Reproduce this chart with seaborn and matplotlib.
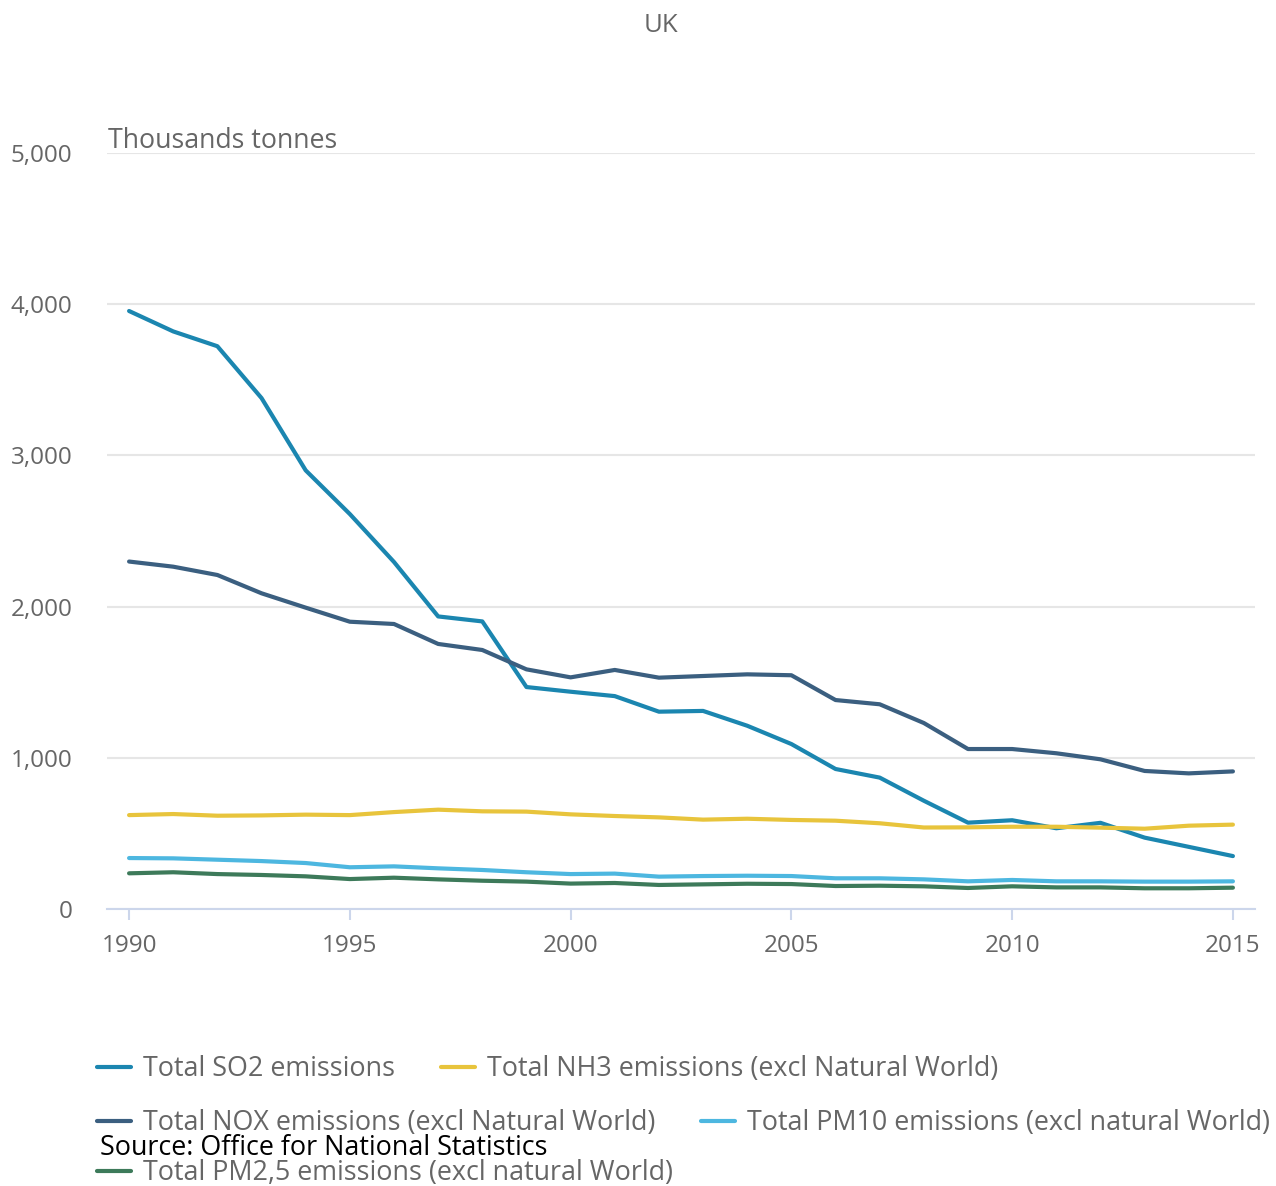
import pandas as pd
import matplotlib.pyplot as plt
import seaborn as sns
from matplotlib.ticker import FuncFormatter

# Data (thousand tonnes)
years = list(range(1990, 2016))

so2 = [3955, 3820, 3722, 3379, 2901, 2612, 2295, 1935, 1902, 1468, 1437, 1408,
       1305, 1310, 1212, 1091, 926, 869, 716, 571, 587, 534, 570, 472, 411, 350]
nox = [2298, 2264, 2209, 2088, 1993, 1900, 1885, 1753, 1713, 1585, 1532, 1581,
       1530, 1541, 1552, 1546, 1382, 1354, 1230, 1058, 1058, 1030, 990, 913, 897, 910]
nh3 = [621, 628, 617, 619, 624, 621, 641, 657, 646, 644, 626, 615,
       606, 591, 597, 589, 584, 567, 539, 540, 544, 544, 538, 531, 551, 558]
pm10 = [337, 335, 326, 317, 304, 276, 282, 269, 258, 243, 231, 234,
        214, 218, 220, 218, 203, 203, 196, 183, 192, 183, 183, 181, 181, 183]
pm25 = [236, 243, 231, 225, 216, 198, 207, 196, 187, 181, 168, 172,
        159, 163, 167, 165, 152, 154, 150, 139, 150, 143, 143, 137, 137, 141]

series_names = [
    "Total SO2 emissions",
    "Total NH3 emissions (excl Natural World)",
    "Total NOX emissions (excl Natural World)",
    "Total PM10 emissions (excl natural World)",
    "Total PM2,5 emissions (excl natural World)",
]
series_values = [so2, nh3, nox, pm10, pm25]
series_colors = ["#1b86b0", "#e8c43c", "#3b5f80", "#4db7e0", "#3d7a5a"]

x_ticks = [1990, 1995, 2000, 2005, 2010, 2015]
y_ticks = [0, 1000, 2000, 3000, 4000, 5000]

rows = []
for name, vals in zip(series_names, series_values):
    for yr, v in zip(years, vals):
        rows.append({"Year": yr, "Value": v, "Series": name})
df = pd.DataFrame(rows)

sns.set_theme(style="white")
plt.rcParams['font.family'] = ['Open Sans', 'DejaVu Sans']

W, H = 1276, 1186
fig = plt.figure(figsize=(W / 100, H / 100), dpi=100)
ax = fig.add_axes([107 / W, 1 - 909 / H, (1255 - 107) / W, (909 - 153) / H])

palette = dict(zip(series_names, series_colors))
sns.lineplot(data=df, x="Year", y="Value", hue="Series", palette=palette,
             linewidth=3, ax=ax, legend=False, zorder=3)
for ln in ax.lines:
    ln.set_solid_capstyle("round")
    ln.set_clip_on(False)

text_color = "#666666"
ax.set_xlim(1989.5, 2015.5)
ax.set_ylim(0, 5000)
ax.set_xticks(x_ticks)
ax.set_yticks(y_ticks)
ax.yaxis.set_major_formatter(FuncFormatter(lambda v, p: f"{int(v):,}"))
ax.set_xlabel("")
ax.set_ylabel("")

ax.grid(axis="y", color="#e6e6e6", linewidth=1.5)
ax.grid(axis="x", visible=False)
for side in ["top", "right", "left"]:
    ax.spines[side].set_visible(False)
ax.spines["bottom"].set_color("#ccd6eb")
ax.spines["bottom"].set_linewidth(1.5)

ax.tick_params(axis="x", length=8, width=1.5, color="#ccd6eb", direction="out",
               labelsize=17.5, labelcolor=text_color, pad=10, bottom=True)
ax.tick_params(axis="y", length=0, labelsize=17.5, labelcolor=text_color, pad=25)

fig.text(661 / W, 1 - 25 / H, "UK", ha="center", va="center", fontsize=18.5, color=text_color)
fig.text(108 / W, 1 - 141 / H, "Thousands tonnes", ha="left", va="center",
         fontsize=19.3, color=text_color)

# flow-style legend rows
handles = {name: plt.Line2D([], [], color=c, linewidth=3) for name, c in palette.items()}
legend_rows = [
    (series_names[0:2], 1069),
    ([series_names[2], series_names[3]], 1123),
    ([series_names[4]], 1173),
]
fs = 19.4
fs_px = fs * 100 / 72
for names, ypix in legend_rows:
    leg = fig.legend([handles[n] for n in names], names, loc="center left",
                     bbox_to_anchor=(97 / W, 1 - ypix / H), ncol=len(names),
                     frameon=False, fontsize=fs, handlelength=34 / fs_px,
                     handletextpad=12 / fs_px, columnspacing=46 / fs_px,
                     borderpad=0, borderaxespad=0)
    for t in leg.get_texts():
        t.set_color(text_color)

fig.text(100 / W, 1 - 1148 / H, "Source: Office for National Statistics", ha="left",
         va="center", fontsize=19.4, color="black")

fig.savefig("out.png", dpi=100)
